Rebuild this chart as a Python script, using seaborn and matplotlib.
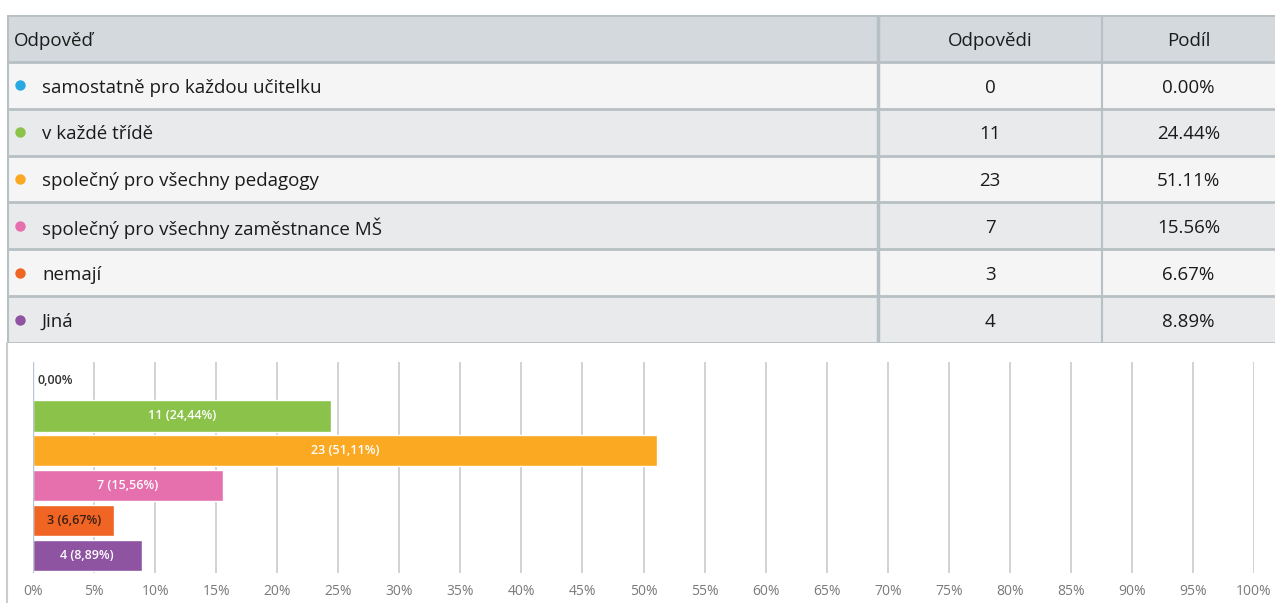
import matplotlib
matplotlib.use("Agg")
import matplotlib.pyplot as plt
import seaborn as sns
import pandas as pd
from matplotlib.patches import Rectangle

# ---------------- data ----------------
answers = ["samostatně pro každou učitelku", "v každé třídě", "společný pro všechny pedagogy",
           "společný pro všechny zaměstnance MŠ", "nemají", "Jiná"]
counts = [0, 11, 23, 7, 3, 4]
shares = [0.00, 24.44, 51.11, 15.56, 6.67, 8.89]
colors = ["#29a9e1", "#8bc34a", "#fba823", "#e66fad", "#f06424", "#8e53a1"]
headers = ["Odpověď", "Odpovědi", "Podíl"]
xticks = list(range(0, 101, 5))

sns.set_theme(style="white")
plt.rcParams["font.family"] = ["Open Sans", "DejaVu Sans"]

W, H = 1275, 603
fig = plt.figure(figsize=(W / 100, H / 100), dpi=100)
fig.patch.set_facecolor("white")

# ---------------- table (pixel layout) ----------------
tx0, tx1 = 7, 1275
ty0, ty1 = 15, 343
tab = fig.add_axes([tx0 / W, 1 - ty1 / H, (tx1 - tx0) / W, (ty1 - ty0) / H])
tab.set_xlim(tx0, tx1)
nrows = len(answers) + 1
tab.set_ylim(nrows, 0)
tab.axis("off")
col1, col2 = 878, 1102
border = "#b7c0c4"
tab.add_patch(Rectangle((tx0, 0), tx1 - tx0, 1, facecolor="#d3d9dc", edgecolor="none"))
for i in range(len(answers)):
    fc = "#f5f5f5" if i % 2 == 0 else "#e8eaeb"
    tab.add_patch(Rectangle((tx0, i + 1), tx1 - tx0, 1, facecolor=fc, edgecolor="none"))
for r in range(nrows + 1):
    tab.axhline(r, color=border, lw=2)
tab.axvline(tx0 + 0.5, color=border, lw=1.5)
tab.axvline(col1, color=border, lw=2.5)
tab.axvline(col2, color=border, lw=1.5)

fs = 13.5
tcol = "#1b1b1b"
dy = 0.05
tab.text(14, 0.5 + dy, headers[0], ha="left", va="center", fontsize=fs, color=tcol)
tab.text((col1 + col2) / 2, 0.5 + dy, headers[1], ha="center", va="center", fontsize=fs, color=tcol)
tab.text((col2 + tx1) / 2, 0.5 + dy, headers[2], ha="center", va="center", fontsize=fs, color=tcol)
for i, (a, c, s, col) in enumerate(zip(answers, counts, shares, colors)):
    y = i + 1.5
    tab.plot([20], [y], "o", color=col, markersize=7.5, markeredgewidth=0)
    tab.text(42, y + dy, a, ha="left", va="center", fontsize=fs, color=tcol)
    tab.text((col1 + col2) / 2, y + dy, f"{c}", ha="center", va="center", fontsize=fs, color=tcol)
    tab.text((col2 + tx1) / 2, y + dy, f"{s:.2f}%", ha="center", va="center", fontsize=fs, color=tcol)

# left border line of chart area
fig.add_artist(plt.Line2D([7 / W, 7 / W], [0, 1 - 343 / H], color="#c8cdd0", lw=1.5))

# ---------------- bar chart ----------------
ax0, ax1 = 33, 1254
ay0, ay1 = 362, 573
ax = fig.add_axes([ax0 / W, 1 - ay1 / H, (ax1 - ax0) / W, (ay1 - ay0) / H])
df = pd.DataFrame({"answer": answers, "share": shares})
sns.barplot(data=df, x="share", y="answer", hue="answer", palette=colors, legend=False,
            orient="h", width=0.9, ax=ax, saturation=1, edgecolor="white", linewidth=1, zorder=3)
ax.set_xlim(0, 100)
ax.set_ylim(5.5, -0.54)
ax.set_xticks(xticks)
ax.set_xticklabels([f"{t}%" for t in xticks], fontsize=10, color="#7a7a7a")
ax.tick_params(axis="x", length=0, pad=8)
ax.set_yticks([])
ax.set_xlabel("")
ax.set_ylabel("")
for sp in ax.spines.values():
    sp.set_visible(False)
ax.set_facecolor("none")
for t in xticks[1:]:
    ax.axvline(t, color="#cfcfcf", lw=1.3, zorder=1)
ax.axvline(0, color="#b9c6d2", lw=1, zorder=4)

for i, (c, s) in enumerate(zip(counts, shares)):
    txt = f"{s:.2f}".replace(".", ",") + "%"
    if c == 0:
        ax.text(0.35, i, txt, ha="left", va="center", fontsize=9, color="#333333",
                fontweight="semibold", zorder=5)
    else:
        tc = "#3a2010" if i == 4 else "white"
        ax.text(s / 2, i, f"{c} ({txt})", ha="center", va="center", fontsize=9,
                color=tc, fontweight="semibold", zorder=5)

fig.savefig("out.png", dpi=100)
